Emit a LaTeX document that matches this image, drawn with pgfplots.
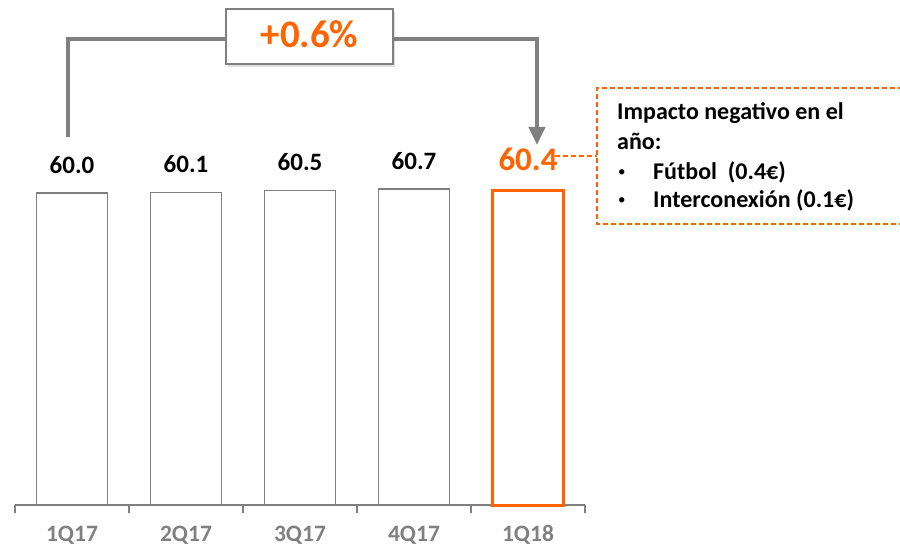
\documentclass[border=0pt]{standalone}
\usepackage{pgfplots}
\pgfplotsset{compat=1.18}
\usepackage{fontspec}
\setmainfont{Carlito}
\usetikzlibrary{arrows.meta,shadows}
\definecolor{org}{RGB}{255,100,0}
\definecolor{gry}{RGB}{128,128,128}
\begin{document}
\begin{tikzpicture}[x=1pt,y=1pt]
\useasboundingbox (0,0) rectangle (900,547);
\begin{axis}[
  at={(15pt,42pt)}, anchor=south west,
  scale only axis, width=570pt, height=416pt,
  xmin=-0.5, xmax=4.5, ymin=0, ymax=80,
  enlargelimits=false, clip=false,
  axis x line*=bottom, axis y line=none,
  x axis line style={draw=gry, line width=2pt},
  xtick={0,1,2,3,4},
  xticklabels={1Q17,2Q17,3Q17,4Q17,1Q18},
  major tick length=0pt,
  minor xtick={-0.5,0.5,1.5,2.5,3.5,4.5},
  minor tick length=8pt,
  tick align=outside,
  xtick style={draw=gry, line width=2pt},
  xticklabel style={font=\fontsize{23.5}{27}\selectfont\bfseries, text=gry, anchor=base, yshift=-36pt},
  /pgf/number format/.cd, fixed, fixed zerofill, precision=1, assume math mode=true,
]
\addplot[ybar, bar width=71pt, bar shift=0pt, draw=gry, line width=1.8pt, fill=white,
  nodes near coords,
  every node near coord/.append style={font=\fontsize{25}{29}\selectfont\bfseries, text=black, anchor=base, inner sep=0pt, yshift=20pt}]
  coordinates {(0,60.0) (1,60.1) (2,60.5) (3,60.7)};
\addplot[ybar, bar width=71pt, bar shift=0pt, draw=org, line width=3pt, fill=white,
  nodes near coords,
  every node near coord/.append style={font=\fontsize{33}{37}\selectfont\bfseries, text=org, anchor=base, inner sep=0pt, yshift=20pt}]
  coordinates {(4,60.4)};
\end{axis}
% bracket
\draw[gry, line width=4pt] (68,410) -- (68,508) -- (226,508);
\draw[gry, line width=4pt, -{Triangle[width=16pt,length=18pt]}] (393,508) -- (537,508) -- (537,402);
\node[draw=gry, line width=1.5pt, fill=white, minimum width=167pt, minimum height=55pt,
  drop shadow={opacity=0.25, shadow xshift=2pt, shadow yshift=-3pt}] at (309.5,510.5) {};
\node[anchor=base, text=org, font=\fontsize{39}{43}\selectfont\bfseries, inner sep=0pt] at (309.5,499) {+0.6\%};
% callout
\draw[org, line width=1.5pt, dash pattern=on 5pt off 3pt] (555,391) -- (597,391);
\draw[org, line width=1.5pt, dash pattern=on 5pt off 3pt] (903,459) -- (597,459) -- (597,323) -- (903,323);
\begin{scope}[every node/.style={anchor=base west, inner sep=0pt, font=\fontsize{24}{28}\selectfont\bfseries}]
\node at (617,427) {Impacto negativo en el};
\node at (617,397) {año:};
\node[font=\fontsize{15}{18}\selectfont] at (618,370) {•};
\node at (653,367) {Fútbol\ \ (0.4€)};
\node[font=\fontsize{15}{18}\selectfont] at (618,342) {•};
\node at (653,339) {Interconexión (0.1€)};
\end{scope}
\end{tikzpicture}
\end{document}
